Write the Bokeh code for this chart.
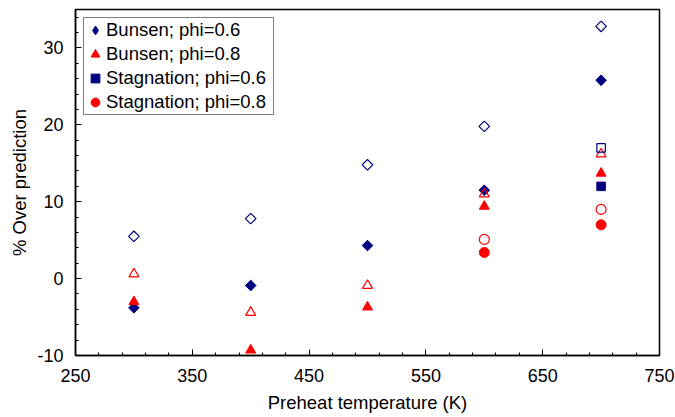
import math
from bokeh.plotting import figure
from bokeh.models import FixedTicker, Legend, LegendItem, CustomJSTickFormatter
from bokeh.embed import file_html
from bokeh.resources import INLINE

# ---- data ----
bunsen_x = [300, 400, 500, 600, 700]
bunsen06 = [-3.8, -0.9, 4.3, 11.5, 25.8]          # filled diamonds
bunsen06_open = [5.5, 7.8, 14.8, 19.8, 32.8]      # open diamonds
bunsen08 = [-3.0, -9.3, -3.7, 9.4, 13.7]          # filled triangles
bunsen08_open = [0.6, -4.4, -0.9, 11.0, 16.2]     # open triangles
stag_x = [600, 700]
stag06 = [float("nan"), 12.0]                     # filled squares
stag06_open = [float("nan"), 17.0]                # open squares
stag08 = [3.4, 7.0]                               # filled circles
stag08_open = [5.1, 9.0]                          # open circles

x_ticks = [250, 350, 450, 550, 650, 750]
y_ticks = [-10, 0, 10, 20, 30]

NAVY = "#000080"
RED = "#FF0000"
FONT = "Liberation Sans"

p = figure(width=675, height=417, x_range=(250, 750), y_range=(-10, 35),
           output_backend="svg", toolbar_location=None,
           min_border_left=75, min_border_right=16,
           min_border_top=9, min_border_bottom=62)

p.xgrid.visible = False
p.ygrid.visible = False
p.outline_line_color = "black"
p.outline_line_width = 1.5
p.outline_line_alpha = 1.0

p.xaxis.ticker = FixedTicker(ticks=x_ticks, minor_ticks=list(range(250, 751, 20)))
p.yaxis.ticker = FixedTicker(ticks=y_ticks, minor_ticks=list(range(-10, 36, 2)))
p.yaxis.formatter = CustomJSTickFormatter(code="return String(tick);")

for ax in (p.xaxis[0], p.yaxis[0]):
    ax.axis_line_color = "black"
    ax.axis_line_width = 1.5
    ax.major_tick_line_color = "black"
    ax.minor_tick_line_color = "black"
    ax.major_tick_in = 6
    ax.major_tick_out = 0
    ax.minor_tick_in = 3
    ax.minor_tick_out = 0
    ax.major_label_text_font = FONT
    ax.major_label_text_font_size = "18px"
    ax.major_label_text_color = "black"
    ax.axis_label_text_font = FONT
    ax.axis_label_text_font_size = "18.5px"
    ax.axis_label_text_font_style = "normal"
    ax.axis_label_text_color = "black"

p.xaxis.axis_label = "Preheat temperature (K)"
p.yaxis.axis_label = "% Over prediction"
p.xaxis.major_label_standoff = 13
p.xaxis.axis_label_standoff = 7
p.yaxis.major_label_standoff = 12
p.yaxis.axis_label_standoff = 4

# legend-shape helper for the diamond series (hidden under the rotated squares)
r1_leg = p.scatter(bunsen_x, bunsen06, marker="diamond", size=10,
                   fill_color=NAVY, line_color=NAVY)

# filled series
r1 = p.scatter(bunsen_x, bunsen06, marker="square", angle=math.pi / 4, size=7.5,
               fill_color=NAVY, line_color=NAVY)
r2 = p.scatter(bunsen_x, bunsen08, marker="triangle", size=10,
               fill_color=RED, line_color=RED)
r3 = p.scatter(stag_x, stag06, marker="square", size=8.5,
               fill_color=NAVY, line_color=NAVY)
r4 = p.scatter(stag_x, stag08, marker="circle", size=10,
               fill_color=RED, line_color=RED)

# open series
p.scatter(bunsen_x, bunsen06_open, marker="square", angle=math.pi / 4, size=7.5,
          fill_color=None, line_color=NAVY, line_width=1.2)
p.scatter(bunsen_x, bunsen08_open, marker="triangle", size=10,
          fill_color=None, line_color=RED, line_width=1.2)
p.scatter(stag_x, stag06_open, marker="square", size=8.5,
          fill_color=None, line_color=NAVY, line_width=1.2)
p.scatter(stag_x, stag08_open, marker="circle", size=10,
          fill_color=None, line_color=RED, line_width=1.2)

legend = Legend(items=[
    LegendItem(label="Bunsen; phi=0.6", renderers=[r1_leg]),
    LegendItem(label="Bunsen; phi=0.8", renderers=[r2]),
    LegendItem(label="Stagnation; phi=0.6", renderers=[r3]),
    LegendItem(label="Stagnation; phi=0.8", renderers=[r4]),
], location="top_left")
legend.margin = 8
legend.padding = 0
legend.spacing = 0
legend.glyph_width = 22
legend.glyph_height = 24
legend.label_height = 24
legend.label_standoff = 0
legend.label_width = 167
legend.label_text_font = FONT
legend.label_text_font_size = "18.5px"
legend.label_text_color = "black"
legend.border_line_color = "black"
legend.border_line_width = 1
legend.background_fill_color = "white"
legend.background_fill_alpha = 1.0
p.add_layout(legend)

open("out.html", "w").write(file_html(p, INLINE))
